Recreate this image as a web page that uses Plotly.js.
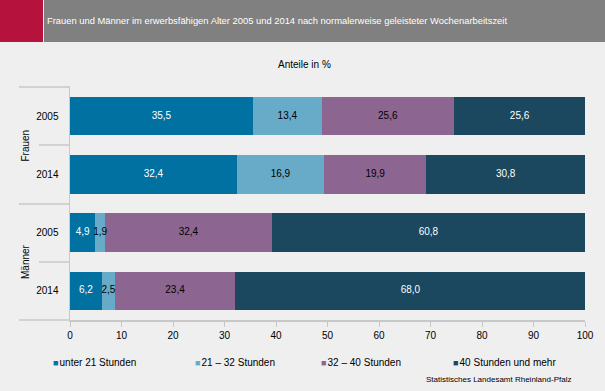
<!DOCTYPE html>
<html>
<head>
<meta charset="utf-8">
<script src="https://cdn.plot.ly/plotly-3.0.1.min.js"></script>
<style>html,body{margin:0;padding:0;background:#eeefee;}#chart{width:605px;height:391px;}</style>
</head>
<body>
<div id="chart"></div>
<script>
// Data
const categories = ['F2005', 'F2014', 'M2005', 'M2014'];
const yearLabels = ['2005', '2014', '2005', '2014'];
const groupLabels = ['Frauen', 'Männer'];
const seriesNames = ['unter 21 Stunden', '21 – 32 Stunden', '32 – 40 Stunden', '40 Stunden und mehr'];
const under21 = [35.5, 32.4, 4.9, 6.2];
const h21to32 = [13.4, 16.9, 1.9, 2.5];
const h32to40 = [25.6, 19.9, 32.4, 23.4];
const over40 = [25.6, 30.8, 60.8, 68.0];
const xTicks = [0, 10, 20, 30, 40, 50, 60, 70, 80, 90, 100];

const seriesValues = [under21, h21to32, h32to40, over40];
const colors = ['#0071a1', '#67abc8', '#8c6690', '#1b475f'];
const textColors = ['#ffffff', '#000000', '#000000', '#ffffff'];
const FONT = 'Liberation Sans, Arial, sans-serif';

// pixel -> paper helpers (plot area 70..585 x, 87..320 y)
const L = 70, R = 585, T = 87, B = 320;
const px = v => (v - L) / (R - L);
const py = v => (B - v) / (B - T);

const traces = seriesValues.map((vals, i) => ({
  type: 'bar',
  orientation: 'h',
  name: seriesNames[i],
  y: categories,
  x: vals,
  marker: {color: colors[i], line: {width: 0}},
  hoverinfo: 'skip',
  showlegend: false
}));

// value labels on top of all bars, at segment midpoints
const cum = categories.map(() => 0);
seriesValues.forEach((vals, i) => {
  const mids = vals.map((v, k) => { const m = cum[k] + v / 2; cum[k] += v; return m; });
  traces.push({
    type: 'scatter', mode: 'text',
    y: categories, x: mids,
    text: vals.map(v => v.toFixed(1).replace('.', ',')),
    textposition: 'middle center',
    textfont: {family: FONT, size: 10, color: textColors[i]},
    cliponaxis: false, hoverinfo: 'skip', showlegend: false
  });
});

const lineColor = '#c8c8c8';
const shapes = [];
function hline(x0, x1, y) {
  shapes.push({type: 'line', xref: 'paper', yref: 'paper', x0: px(x0), x1: px(x1), y0: py(y), y1: py(y), line: {color: lineColor, width: 1.5}});
}
hline(19, 70, 87);
hline(39, 70, 145);
hline(19, 70, 204);
hline(39, 70, 262);
hline(19, 70, 320);
// header band
shapes.push({type: 'rect', xref: 'paper', yref: 'paper', x0: px(0), x1: px(43), y0: py(0), y1: py(42), fillcolor: '#b5123e', line: {width: 0}, layer: 'below'});
shapes.push({type: 'rect', xref: 'paper', yref: 'paper', x0: px(44), x1: px(605), y0: py(0), y1: py(42), fillcolor: '#808080', line: {width: 0}, layer: 'below'});

const annotations = [];
annotations.push({xref: 'paper', yref: 'paper', x: px(304), y: py(64), text: 'Anteile in %', showarrow: false, font: {family: FONT, size: 10, color: '#000'}, xanchor: 'center', yanchor: 'middle'});
const groupCenters = [145.5, 262];
groupLabels.forEach((g, i) => annotations.push({xref: 'paper', yref: 'paper', x: px(25), y: py(groupCenters[i]), text: g, textangle: -90, showarrow: false, font: {family: FONT, size: 10, color: '#000'}, xanchor: 'center', yanchor: 'middle'}));
// legend
const legendX = [52, 194, 320, 452];
seriesNames.forEach((n, i) => annotations.push({xref: 'paper', yref: 'paper', x: px(legendX[i] - 1), y: py(362), text: '<span style="color:' + colors[i] + ';font-size:9px">■</span><span style="font-size:4px"> </span>' + n, showarrow: false, font: {family: FONT, size: 10, color: '#000'}, xanchor: 'left', yanchor: 'middle'}));
annotations.push({xref: 'paper', yref: 'paper', x: px(573), y: py(380), text: 'Statistisches Landesamt Rheinland-Pfalz', showarrow: false, font: {family: FONT, size: 8, color: '#000'}, xanchor: 'right', yanchor: 'middle'});

const layout = {
  width: 605, height: 391,
  margin: {l: L, r: 605 - R, t: T, b: 391 - B, pad: 0},
  paper_bgcolor: '#eeefee', plot_bgcolor: '#eeefee',
  barmode: 'stack', bargap: 0.34,
  separators: ',.',
  showlegend: false,
  title: {text: 'Frauen und Männer im erwerbsfähigen Alter 2005 und 2014 nach normalerweise geleisteter Wochenarbeitszeit', x: 47 / 605, xref: 'container', xanchor: 'left', y: 1 - 21 / 391, yref: 'container', yanchor: 'middle', font: {family: FONT, size: 9.4, color: '#ffffff'}},
  xaxis: {range: [0, 100], tickvals: xTicks, ticktext: xTicks.map(String), showgrid: false, zeroline: false, showline: true, linecolor: lineColor, linewidth: 1.5, ticks: 'outside', ticklen: 5, tickcolor: lineColor, tickwidth: 1, tickfont: {family: FONT, size: 10, color: '#000'}, fixedrange: true},
  yaxis: {type: 'category', autorange: 'reversed', tickvals: categories, ticktext: yearLabels, showgrid: false, zeroline: false, showline: true, linecolor: lineColor, linewidth: 1.5, ticks: '', ticklabelstandoff: 8, tickfont: {family: FONT, size: 10, color: '#000'}, fixedrange: true},
  shapes: shapes,
  annotations: annotations,
  font: {family: FONT}
};

Plotly.newPlot('chart', traces, layout, {displayModeBar: false, staticPlot: true});
</script>
</body>
</html>
